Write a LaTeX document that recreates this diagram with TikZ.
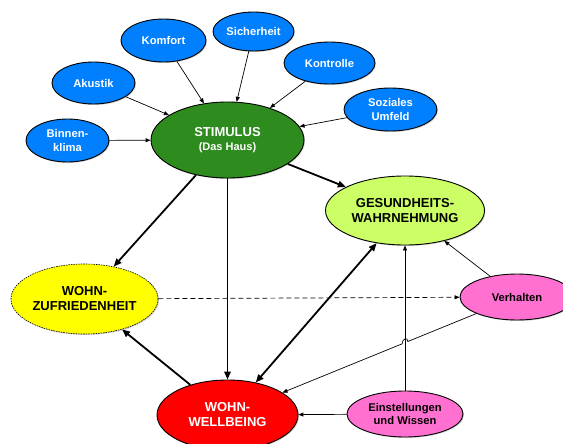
\documentclass[tikz,border=0pt]{standalone}
\usepackage{fontspec}
\setmainfont{Liberation Sans}
\usetikzlibrary{arrows.meta, shapes.geometric, shadows, calc}
\definecolor{hausblue}{RGB}{0,128,255}
\definecolor{hausgreen}{RGB}{46,139,30}
\definecolor{healthlime}{RGB}{204,255,102}
\definecolor{satyellow}{RGB}{255,255,0}
\definecolor{behavpink}{RGB}{255,112,208}
\definecolor{wellred}{RGB}{255,0,0}

\begin{document}
\begin{tikzpicture}[x=1pt, y=-1pt,
    factor/.style={ellipse, draw=black, line width=0.9pt, fill=hausblue, text=white, inner sep=0pt, align=center, font=\fontsize{11.2}{13.5}\selectfont\bfseries, drop shadow={shadow xshift=1pt, shadow yshift=-1pt, opacity=0.35}},
    outcome/.style={ellipse, draw=black, line width=0.9pt, text=black, inner sep=0pt, align=center, font=\fontsize{13}{15}\selectfont\bfseries, drop shadow={shadow xshift=1pt, shadow yshift=-1pt, opacity=0.35}},
    thinarrow/.style={-{Triangle[length=5pt, width=4pt]}, line width=0.7pt},
    thickarrow/.style={-{Triangle[length=8pt, width=6.5pt]}, line width=1.8pt}
]
\useasboundingbox (0,0) rectangle (563,444);
% einflussfaktoren
\node[factor, minimum width=85pt, minimum height=43pt] (komfort) at (163.5,40.5) {Komfort};
\node[factor, minimum width=81pt, minimum height=39pt] (sicher) at (253.5,31.5) {Sicherheit};
\node[factor, minimum width=91pt, minimum height=42pt] (kontrolle) at (329.5,63) {Kontrolle};
\node[factor, minimum width=83pt, minimum height=42pt] (akustik) at (93.5,83) {Akustik};
\node[factor, minimum width=93pt, minimum height=43pt] (sozial) at (390.5,109.5) {Soziales\\Umfeld};
\node[factor, minimum width=83pt, minimum height=43pt] (binnen) at (67.5,140.5) {Binnen-\\klima};
% zentrale knoten
\node[outcome, fill=hausgreen, text=white, minimum width=153pt, minimum height=76pt] (stimulus) at (227.5,140) {STIMULUS\\[-1pt]{\fontsize{11}{13}\selectfont (Das Haus)}};
\node[outcome, fill=healthlime, minimum width=159pt, minimum height=69pt] (gesund) at (405,210.5) {GESUNDHEITS-\\WAHRNEHMUNG};
\node[outcome, fill=satyellow, dash pattern=on 1.5pt off 1pt, line width=0.6pt, minimum width=145pt, minimum height=70pt] (zufrieden) at (84.5,299) {WOHN-\\ZUFRIEDENHEIT};
\node[outcome, fill=wellred, text=white, minimum width=141pt, minimum height=70pt] (wellbeing) at (227.5,415) {WOHN-\\WELLBEING};
\node[factor, fill=behavpink, text=black, minimum width=114pt, minimum height=46pt] (verhalten) at (517,297) {Verhalten};
\node[factor, fill=behavpink, text=black, minimum width=116pt, minimum height=46pt] (einstell) at (405,414) {Einstellungen\\und Wissen};
% pfeile
\draw[thinarrow] (komfort) -- (stimulus);
\draw[thinarrow] (sicher) -- (stimulus);
\draw[thinarrow] (kontrolle) -- (stimulus);
\draw[thinarrow] (akustik) -- (stimulus);
\draw[thinarrow] (sozial) -- (stimulus);
\draw[thinarrow] (binnen) -- (stimulus);
\draw[thickarrow] (stimulus) -- (gesund);
\draw[thickarrow] (stimulus) -- (zufrieden);
\draw[thickarrow] (stimulus) -- (wellbeing);
\draw[thickarrow, {Triangle[length=8pt, width=6.5pt]}-{Triangle[length=8pt, width=6.5pt]}] (wellbeing) -- (gesund);
\draw[thickarrow] (wellbeing) -- (zufrieden);
\draw[thinarrow, dash pattern=on 5pt off 3pt] (zufrieden) -- (verhalten);
\draw[thinarrow] (verhalten) -- (gesund);
\draw[thinarrow] (einstell) -- (gesund);
\draw[thinarrow] (einstell) -- (wellbeing);
\coordinate (hopa) at ($(verhalten)!0.377!(wellbeing)$);
\coordinate (hopb) at ($(verhalten)!0.397!(wellbeing)$);
\draw[thinarrow] (verhalten) -- (hopa) .. controls +(0,-5) and +(0,-5) .. (hopb) -- (wellbeing);
\end{tikzpicture}
\end{document}
